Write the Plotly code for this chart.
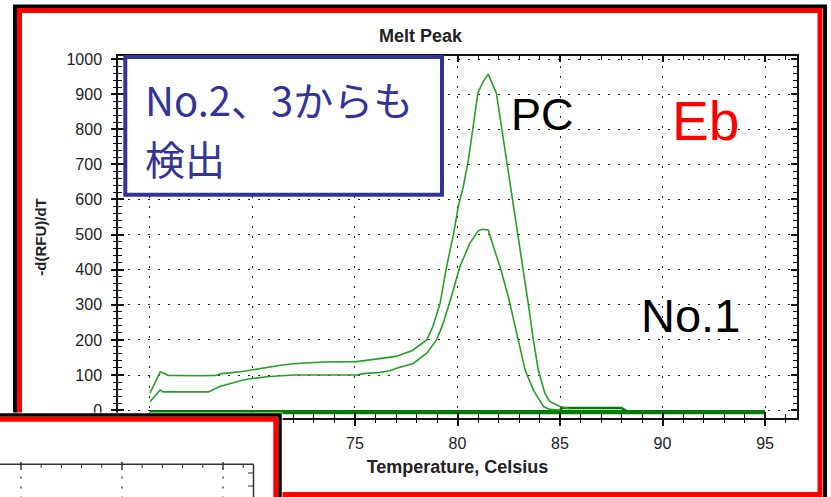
import plotly.graph_objects as go

# ---------------- data ----------------
temp_pc = [65.0, 65.5, 65.9, 66.5, 67.5, 68.2, 68.5, 69.5, 70.4, 71.3, 72.0, 73.4, 75.1, 75.6,
           76.2, 77.0, 77.8, 78.5, 78.8, 79.15, 79.47, 79.8, 80.04, 80.28, 80.53, 80.77, 81.0,
           81.25, 81.5, 81.9, 82.15, 82.4, 82.64, 82.9, 83.2, 83.45, 83.7, 83.94, 84.26, 84.5,
           85.0, 85.5]
melt_pc = [48, 109, 99, 98, 98, 99, 104, 110, 119, 127, 132, 137, 138, 142,
           145, 153, 170, 200, 238, 304, 409, 500, 580, 636, 712, 807, 905,
           935, 957, 902, 807, 712, 618, 510, 399, 304, 200, 114, 48, 24,
           10, 3]

temp_s = [65.0, 65.5, 65.65, 66.5, 67.85, 68.4, 69.55, 70.0, 70.7, 72.0, 75.1, 75.4, 76.2,
          76.7, 77.03, 77.84, 78.5, 78.98, 79.3, 79.7, 80.12, 80.6, 81.0, 81.2, 81.5, 81.75,
          82.07, 82.48, 82.89, 83.3, 83.7, 84.2, 84.5, 85.0]
melt_s = [24, 57, 52, 52, 52, 67, 86, 90, 95, 100, 100, 104, 107,
          112, 119, 133, 162, 200, 247, 323, 409, 475, 510, 515, 513, 466,
          409, 323, 219, 114, 57, 10, 2, 0]

temp_neg_a = [65, 80, 95]
melt_neg_a = [-3, -3, -3]
temp_neg_b = [65, 80, 95]
melt_neg_b = [-8, -8, -8]
temp_neg_c = [65, 84.9, 85.1, 88.0, 88.3, 95]
melt_neg_c = [-5, -5, 6, 6, -5, -5]

x_range = [63.44, 96.56]
y_range = [-22.5, 1008.8]

note_lines = ["No.2、3からも", "検出"]

# ---------------- layout geometry ----------------
W, H = 831, 497
ML, MR, MT, MB = 118, 34, 56, 79
PW, PH = W - ML - MR, H - MT - MB


def px(x):
    return (x - ML) / PW


def py(y):
    return (H - MB - y) / PH


PEAK_GREEN = "#25a025"
FLAT_GREEN = "#007d00"
AX = "#111111"
SANS = "Liberation Sans, Arial, sans-serif"
TICKFONT = dict(family=SANS, size=16, color="#222222")

fig = go.Figure()
for t, m, c, w, n in [
    (temp_neg_a, melt_neg_a, FLAT_GREEN, 2.5, "No.1"),
    (temp_neg_b, melt_neg_b, FLAT_GREEN, 2.5, "NC"),
    (temp_neg_c, melt_neg_c, FLAT_GREEN, 2.5, "No.1 b"),
    (temp_s, melt_s, PEAK_GREEN, 1.6, "No.2/3"),
    (temp_pc, melt_pc, PEAK_GREEN, 1.6, "PC"),
]:
    fig.add_trace(go.Scatter(x=t, y=m, mode="lines", name=n,
                             line=dict(color=c, width=w), hoverinfo="skip"))

# empty trace carrying the overlaid tick axes (inside ticks)
fig.add_trace(go.Scatter(x=[], y=[], xaxis="x2", yaxis="y2", showlegend=False, hoverinfo="skip"))

fig.update_layout(
    template="none",
    width=W, height=H,
    margin=dict(l=ML, r=MR, t=MT, b=MB, pad=0),
    paper_bgcolor="white", plot_bgcolor="white",
    showlegend=False,
    title=dict(text="Melt Peak", x=420.5 / W, xref="container", xanchor="center",
               y=1 - 36 / H, yref="container", yanchor="middle",
               font=dict(family=SANS, size=18, color="#222222", weight="bold")),
    xaxis=dict(range=x_range, tickmode="linear", tick0=65, dtick=5,
               ticks="outside", ticklen=6, tickwidth=1.5, tickcolor=AX,
               showline=True, linecolor=AX, linewidth=1.5, mirror=False,
               showgrid=True, gridcolor="#222222", gridwidth=1, griddash="2px,8px",
               zeroline=False, tickfont=TICKFONT, ticklabelstandoff=4,
               minor=dict(tick0=65, dtick=1, ticks="outside", ticklen=3, tickwidth=1,
                          tickcolor=AX, showgrid=False),
               title=dict(text="Temperature, Celsius",
                          font=dict(family=SANS, size=18, color="#222222", weight="bold"),
                          standoff=9),
               automargin=False),
    yaxis=dict(range=y_range, tickmode="linear", tick0=0, dtick=100,
               ticks="outside", ticklen=5, tickwidth=1.5, tickcolor=AX,
               showline=True, linecolor=AX, linewidth=1.5, mirror=False,
               showgrid=True, gridcolor="#222222", gridwidth=1, griddash="2px,8px",
               zeroline=False, tickfont=TICKFONT, ticklabelstandoff=6,
               minor=dict(tick0=0, dtick=20, ticks="outside", ticklen=3, tickwidth=1,
                          tickcolor=AX, showgrid=False),
               title=dict(text="-d(RFU)/dT",
                          font=dict(family=SANS, size=15, color="#222222", weight="bold"),
                          standoff=16),
               automargin=False),
    xaxis2=dict(range=x_range, overlaying="x", anchor="y2", side="bottom",
                tickmode="linear", tick0=65, dtick=5, ticks="inside", ticklen=6, tickwidth=1.5,
                tickcolor=AX, showline=True, linecolor=AX, linewidth=1.5, mirror="allticks",
                showticklabels=False, showgrid=False, zeroline=False,
                minor=dict(tick0=65, dtick=1, ticks="inside", ticklen=4, tickwidth=1,
                           tickcolor=AX, showgrid=False)),
    yaxis2=dict(range=y_range, overlaying="y", anchor="x2", side="left",
                tickmode="linear", tick0=0, dtick=100, ticks="inside", ticklen=6, tickwidth=1.5,
                tickcolor=AX, showline=True, linecolor=AX, linewidth=1.5, mirror="allticks",
                showticklabels=False, showgrid=False, zeroline=False,
                minor=dict(tick0=0, dtick=20, ticks="inside", ticklen=4, tickwidth=1,
                           tickcolor=AX, showgrid=False)),
)

shapes = []


def rect(x0, y0, x1, y1, color=None, width=0, fill=None):
    d = dict(type="rect", xref="paper", yref="paper", layer="above",
             x0=px(x0), x1=px(x1), y0=py(y0), y1=py(y1),
             line=dict(color=color or "rgba(0,0,0,0)", width=width))
    if fill:
        d["fillcolor"] = fill
    return d


def seg(x0, y0, x1, y1, color="#333333", width=1.5, dash="solid"):
    return dict(type="line", xref="paper", yref="paper", layer="above",
                x0=px(x0), x1=px(x1), y0=py(y0), y1=py(y1),
                line=dict(color=color, width=width, dash=dash))


# outer frame of the slide picture
shapes.append(rect(15, 6.5, 825, 520, color="black", width=4))
shapes.append(rect(19.5, 10.5, 820, 494.5, color="#ff0000", width=5))
# blue note box
shapes.append(rect(125.3, 57, 442, 194.7, color="#333399", width=4, fill="white"))
# overlapping second picture (bottom-left)
shapes.append(rect(-10, 412.5, 282.5, 520, fill="white"))
shapes.append(rect(-10, 415, 280, 530, color="black", width=3.5))
shapes.append(rect(-10, 419.2, 275.8, 530, color="#ff0000", width=5))
# its partial chart frame
shapes.append(seg(-5, 464.3, 253.5, 464.3))
shapes.append(seg(253.5, 464.3, 253.5, 520))
for k in range(12):
    xx = 21 + 20.2 * k
    if k % 5 == 0:
        shapes.append(seg(xx, 462, xx, 470, width=1.5))
        shapes.append(seg(xx, 476.5, xx, 500, color="#222222", width=1.2, dash="2px,8px"))
    else:
        shapes.append(seg(xx, 464.3, xx, 468, width=1))
for yy in (473, 486):
    shapes.append(seg(248, yy, 253.5, yy, width=1))

fig.update_layout(shapes=shapes)

ann = [
    dict(text=note_lines[0], x=px(143), y=py(98.5), xanchor="left", yanchor="middle",
         align="left", font=dict(family="Noto Sans CJK JP", size=40, color="#333399")),
    dict(text=note_lines[1], x=px(143), y=py(157.5), xanchor="left", yanchor="middle",
         align="left", font=dict(family="Noto Sans CJK JP", size=40, color="#333399")),
    dict(text="PC", x=px(542.5), y=py(114.5), xanchor="center", yanchor="middle",
         font=dict(family=SANS, size=45, color="black")),
    dict(text="Eb", x=px(705), y=py(121), xanchor="center", yanchor="middle",
         font=dict(family=SANS, size=55, color="#ff0000")),
    dict(text="No.1", x=px(690), y=py(315), xanchor="center", yanchor="middle",
         font=dict(family=SANS, size=47, color="black")),
]
for a in ann:
    a.update(xref="paper", yref="paper", showarrow=False)
fig.update_layout(annotations=ann)

fig.write_html("out.html",
               config={"displayModeBar": False},
               post_script="document.body.style.margin='0';document.body.style.overflow='hidden';")
